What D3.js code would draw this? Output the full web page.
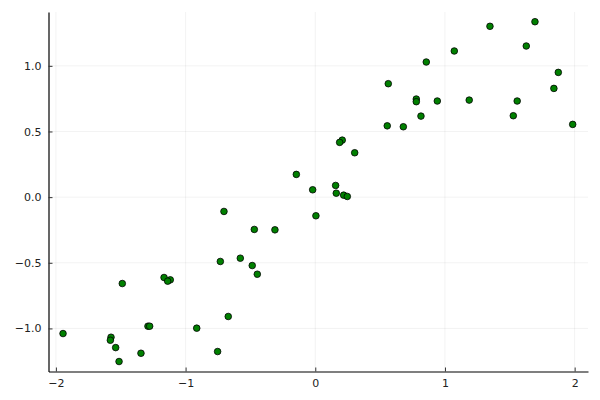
<!DOCTYPE html>
<html>
<head>
<meta charset="utf-8">
<script src="https://cdn.jsdelivr.net/npm/d3@7"></script>
<style>
  body { margin: 0; background: #fff; }
  svg { display: block; }
</style>
</head>
<body>
<div id="chart"></div>
<script>
// Points.
var xs = [
  -1.945, -1.488, -1.166, -1.118, -1.138, -1.290, -1.277, -0.914, -1.575, -1.580,
  -1.539, -1.344, -1.513, -0.704, 0.005, -0.470, -0.311, -0.732, -0.578, -0.486,
  -0.447, -0.671, -0.753, 0.563, 0.555, 0.208, 0.188, 0.304, -0.146, -0.020,
  0.157, 0.162, 0.219, 0.247, 0.679, 0.856, 0.779, 0.779, 0.815, 0.941,
  1.072, 1.187, 1.347, 1.694, 1.627, 1.874, 1.840, 1.557, 1.527, 1.985
];
var ys = [
  -1.039, -0.658, -0.612, -0.630, -0.640, -0.983, -0.983, -0.998, -1.067, -1.090,
  -1.146, -1.189, -1.252, -0.109, -0.142, -0.246, -0.249, -0.490, -0.465, -0.521,
  -0.587, -0.909, -1.176, 0.864, 0.543, 0.434, 0.417, 0.338, 0.173, 0.056,
  0.089, 0.030, 0.015, 0.005, 0.536, 1.029, 0.747, 0.727, 0.617, 0.732,
  1.113, 0.739, 1.301, 1.336, 1.151, 0.950, 0.828, 0.732, 0.620, 0.554
];
var xTicks = [-2, -1, 0, 1, 2];
var yTicks = [-1.0, -0.5, 0.0, 0.5, 1.0];

var width = 600, height = 400;
var margin = { left: 48.5, right: 12, top: 12, bottom: 28.5 };

function translate(x, y) {
  return 'translate(' + x + ', ' + y + ')';
}

var svg = d3.select('#chart').append('svg')
  .attr('width', width)
  .attr('height', height);

var x = d3.scaleLinear()
  .domain([-2.057, 2.103])
  .range([margin.left, width - margin.right]);

var y = d3.scaleLinear()
  .domain([-1.328, 1.410])
  .range([height - margin.bottom, margin.top]);

var fmtY = function(d) { return d3.format('.1f')(d).replace('-', '\u2212'); };
var fmtX = function(d) { return String(d).replace('-', '\u2212'); };

// Grid lines.
svg.append('g')
  .selectAll('line').data(xTicks).enter()
  .append('line')
    .attr('x1', d => x(d)).attr('x2', d => x(d))
    .attr('y1', margin.top).attr('y2', height - margin.bottom)
    .attr('stroke', '#000').attr('stroke-opacity', 0.1).attr('stroke-width', 0.5);

svg.append('g')
  .selectAll('line').data(yTicks).enter()
  .append('line')
    .attr('x1', margin.left).attr('x2', width - margin.right)
    .attr('y1', d => y(d)).attr('y2', d => y(d))
    .attr('stroke', '#000').attr('stroke-opacity', 0.1).attr('stroke-width', 0.5);

// Axes with inward ticks.
var xAxis = d3.axisBottom(x).tickValues(xTicks).tickFormat(fmtX)
  .tickSizeInner(-4).tickSizeOuter(0).tickPadding(8);
var yAxis = d3.axisLeft(y).tickValues(yTicks).tickFormat(fmtY)
  .tickSizeInner(-4).tickSizeOuter(0).tickPadding(7);

var gx = svg.append('g')
  .attr('transform', translate(0, height - margin.bottom))
  .call(xAxis);
var gy = svg.append('g')
  .attr('transform', translate(margin.left, 0))
  .call(yAxis);

[gx, gy].forEach(function(g) {
  g.select('.domain').attr('stroke', '#000').attr('stroke-width', 1.2);
  g.selectAll('.tick line').attr('stroke', '#333').attr('stroke-width', 1);
  g.selectAll('.tick text')
    .attr('fill', '#222')
    .style('font-family', 'DejaVu Sans, sans-serif')
    .style('font-size', '11px');
});

// Points.
svg.append('g')
  .selectAll('circle').data(d3.range(xs.length)).enter()
  .append('circle')
    .attr('cx', i => x(xs[i]))
    .attr('cy', i => y(ys[i]))
    .attr('r', 3.3)
    .attr('fill', '#008000')
    .attr('stroke', '#000')
    .attr('stroke-width', 0.8);
</script>
</body>
</html>
